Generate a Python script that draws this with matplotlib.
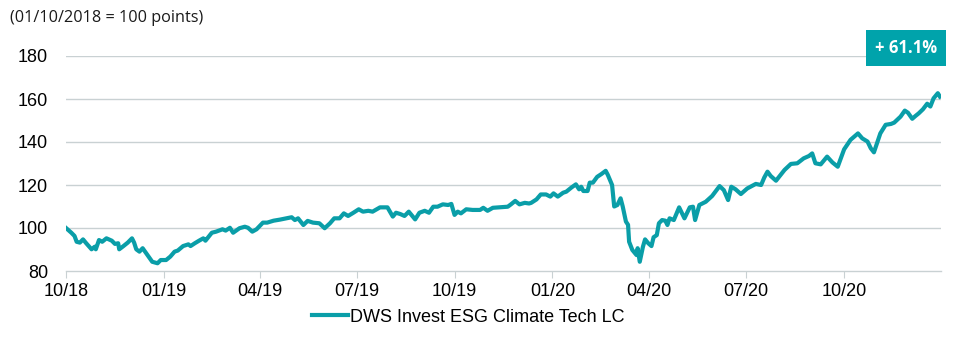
import matplotlib
matplotlib.use("Agg")
import matplotlib.pyplot as plt
import matplotlib.dates as mdates
import pandas as pd

# index level, days after the base date (01/10/2018 = 100)
base_date = "2018-10-01"
day_offset = [
    0, 5, 8, 10, 13, 16, 19, 24, 27, 28, 31, 34, 38, 43, 46, 49, 50, 54, 58, 62,
    64, 66, 69, 72, 75, 78, 81, 86, 89, 94, 98, 102, 105, 110, 115, 117, 121, 125, 129, 131,
    137, 141, 147, 150, 154, 157, 163, 168, 171, 175, 179, 185, 189, 195, 201, 207, 212, 215, 218, 223,
    227, 232, 238, 243, 248, 252, 257, 261, 265, 270, 275, 279, 284, 288, 295, 302, 307, 310, 314, 318,
    322, 328, 332, 337, 341, 345, 349, 354, 359, 362, 365, 368, 371, 376, 382, 389, 392, 396, 401, 407,
    415, 418, 422, 426, 431, 435, 437, 442, 446, 451, 455, 458, 462, 467, 470, 475, 479, 482, 484, 486,
    490, 492, 495, 499, 503, 507, 509, 513, 515, 518, 521, 523, 526, 528, 529, 532, 536, 537, 539, 542,
    544, 547, 550, 552, 555, 557, 560, 563, 565, 567, 571, 576, 581, 586, 589, 591, 595, 601, 607, 614,
    618, 622, 625, 629, 634, 640, 648, 653, 656, 659, 662, 667, 675, 681, 687, 693, 698, 701, 704, 709,
    715, 720, 725, 731, 737, 744, 748, 753, 756, 759, 765, 770, 775, 778, 784, 788, 791, 795, 798, 801,
    805, 809, 812, 815, 819, 821,
]
index_value = [
    100.0, 97.8, 96.3, 93.6, 93.2, 94.7, 92.9, 90.1, 91.3, 90.1, 94.4, 93.6, 95.2, 94.1, 92.6, 92.9, 90.1, 91.6, 93.2, 95.2,
    93.2, 90.1, 89.0, 90.6, 88.5, 86.4, 84.3, 83.6, 85.1, 85.1, 86.7, 89.0, 89.5, 91.6, 92.4, 91.6, 92.9, 94.1, 95.2, 94.1,
    97.8, 98.3, 99.4, 98.8, 100.1, 97.8, 99.9, 100.6, 100.1, 98.3, 99.4, 102.5, 102.5, 103.4, 103.9, 104.5, 105.0, 103.7, 104.5, 101.4,
    103.3, 102.5, 102.2, 99.9, 102.2, 104.5, 104.5, 106.8, 105.6, 107.1, 108.7, 107.6, 108.0, 107.6, 109.6, 109.6, 105.3, 107.1, 106.5, 105.6,
    107.6, 104.0, 107.1, 108.0, 107.1, 109.9, 109.9, 111.0, 110.7, 111.2, 106.1, 107.6, 106.8, 108.7, 108.4, 108.4, 109.4, 108.0, 109.4, 109.6,
    109.9, 111.0, 112.6, 111.0, 111.7, 111.4, 111.7, 113.3, 115.6, 115.6, 114.6, 116.1, 114.6, 116.4, 116.9, 118.9, 120.3, 118.0, 119.2, 117.2,
    117.2, 121.1, 121.1, 123.8, 125.1, 126.6, 124.7, 120.0, 110.0, 110.7, 113.8, 110.0, 103.0, 101.5, 93.6, 89.8, 87.4, 90.6, 84.3, 91.3,
    94.7, 92.9, 91.6, 95.7, 96.7, 102.2, 103.7, 103.4, 101.4, 104.5, 103.7, 109.6, 104.5, 109.6, 109.9, 103.7, 110.7, 112.2, 114.9, 119.5,
    117.6, 113.0, 119.2, 118.0, 115.8, 118.4, 120.5, 120.0, 123.5, 126.2, 124.2, 122.0, 127.0, 129.8, 130.1, 132.4, 133.5, 134.7, 130.1, 129.6,
    133.2, 130.5, 128.5, 136.6, 141.0, 144.0, 141.7, 140.2, 137.1, 135.2, 144.0, 148.0, 148.4, 149.0, 151.8, 154.6, 153.6, 150.8, 152.1, 153.3,
    155.2, 157.8, 156.5, 160.3, 162.7, 161.1,
]
series_name = "DWS Invest ESG Climate Tech LC"
performance_label = "+ 61.1%"
subtitle = "(01/10/2018 = 100 points)"
y_ticks = [80, 100, 120, 140, 160, 180]

teal = "#0a9ea8"
grid_grey = "#c9d1d3"

dates = pd.Timestamp(base_date) + pd.to_timedelta(day_offset, unit="D")

plt.rcParams["font.family"] = ["Liberation Sans", "DejaVu Sans"]

fig = plt.figure(figsize=(9.6, 3.38), dpi=100)
ax = fig.add_axes([66 / 960, 1 - 271 / 338, (941 - 66) / 960, (271 - 56) / 338])

ax.plot(dates, index_value, color=teal, lw=3.0, solid_joinstyle="round",
        label=series_name, zorder=3)

ax.set_xlim(pd.Timestamp("2018-10-01"), pd.Timestamp("2020-12-31"))
ax.set_ylim(80, 180)
ax.set_yticks(y_ticks)
for v in y_ticks[1:]:
    ax.axhline(v, color=grid_grey, lw=1.0, zorder=1)

ax.xaxis.set_major_locator(mdates.MonthLocator(bymonth=[1, 4, 7, 10]))
ax.xaxis.set_major_formatter(mdates.DateFormatter("%m/%y"))

for s in ["top", "right", "left"]:
    ax.spines[s].set_visible(False)
ax.spines["bottom"].set_color(grid_grey)
ax.spines["bottom"].set_linewidth(1.0)
ax.tick_params(axis="x", length=5, color=grid_grey, labelsize=13, pad=4)
ax.tick_params(axis="y", length=0, labelsize=13, pad=13)

fig.text(10 / 960, 1 - 18 / 338, subtitle, fontsize=11.7, family=["Open Sans", "DejaVu Sans"],
         ha="left", va="center", color="#1a1a1a")

fig.text(906 / 960, 1 - 48 / 338, performance_label, fontsize=12, fontweight="bold",
         family=["Open Sans", "DejaVu Sans"], color="white", ha="center", va="center",
         bbox=dict(boxstyle="square,pad=0.55", fc="#00a3ab", ec="none"))

ax.legend(loc="center", bbox_to_anchor=(468 / 960, 1 - 317 / 338),
          bbox_transform=fig.transFigure, frameon=False, fontsize=13,
          handlelength=2.0, handletextpad=0.1)

fig.savefig("out.png", dpi=100)
